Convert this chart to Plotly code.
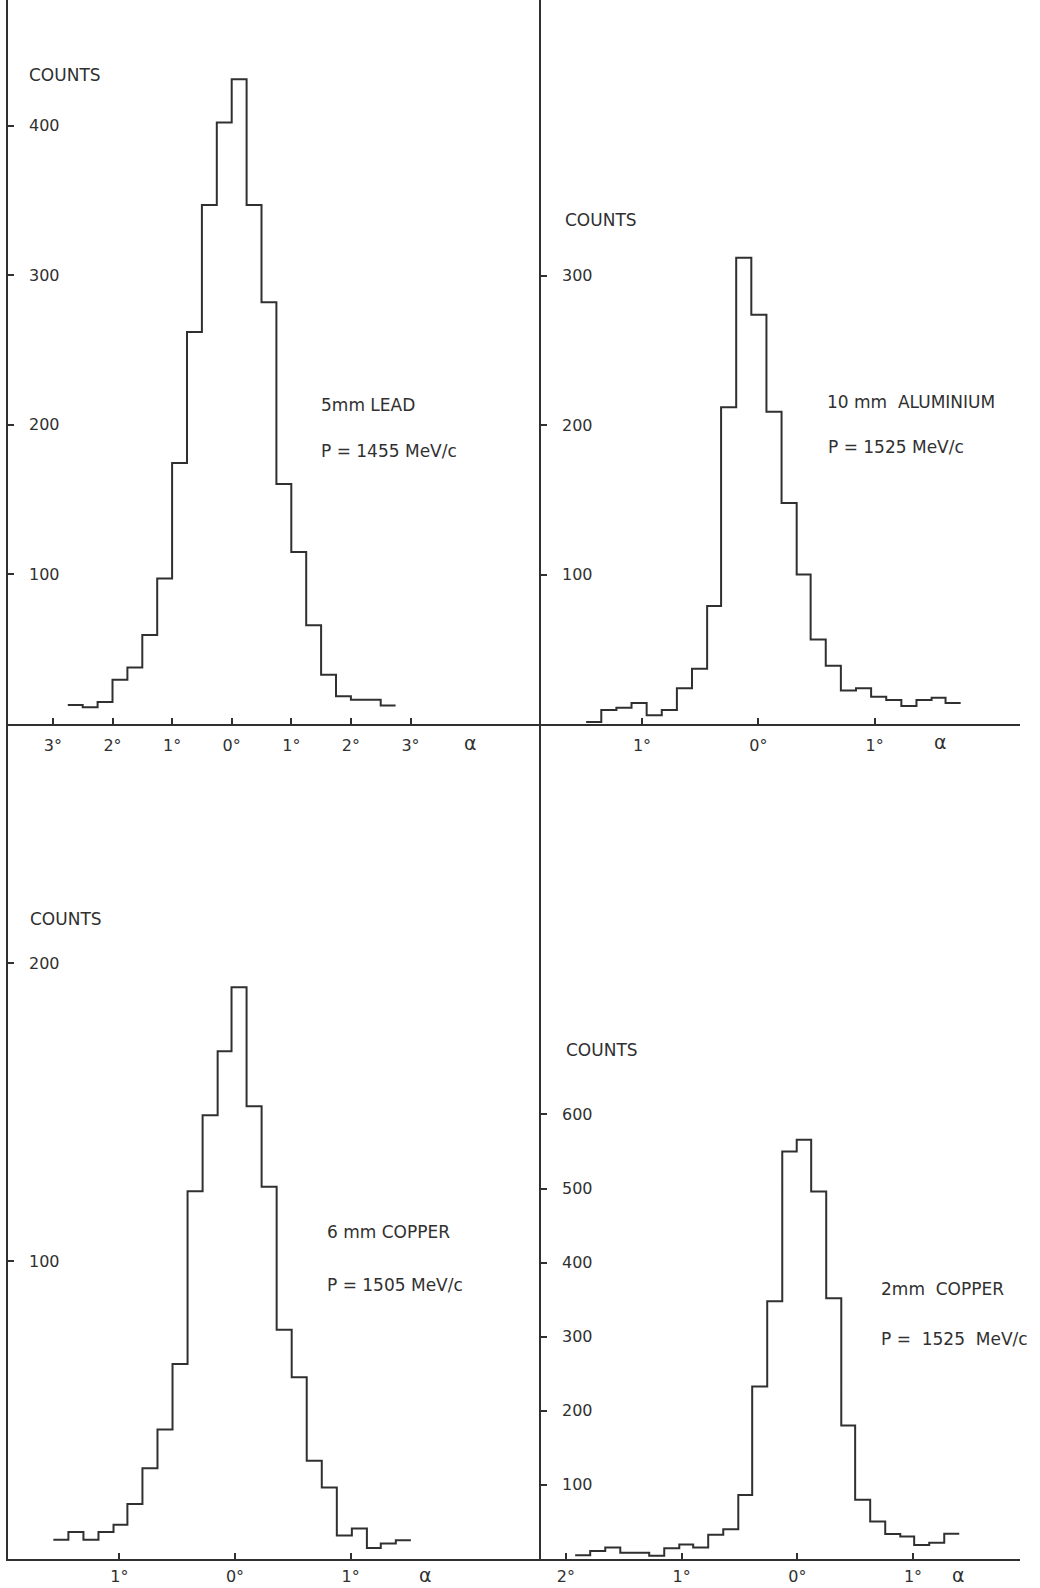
import plotly.graph_objects as go

W, H = 1040, 1588
INK = "#303030"
FONT = "DejaVu Sans"

# ---------------- data ----------------
# Panel A: 5 mm lead, P = 1455 MeV/c  (bin edges in degrees)
lead_edges = [-2.75, -2.5, -2.25, -2.0, -1.75, -1.5, -1.25, -1.0, -0.75, -0.5, -0.25,
              0.0, 0.25, 0.5, 0.75, 1.0, 1.25, 1.5, 1.75, 2.0, 2.25, 2.5, 2.75]
lead_counts = [12.7, 11.2, 14.7, 29.5, 37.7, 59.5, 97.2, 174.4, 262, 347, 402,
               431, 347, 282, 160.5, 115, 66, 33, 18.6, 16.2, 16.2, 12.4]

# Panel B: 10 mm aluminium, P = 1525 MeV/c
al_edges = [-1.48, -1.35, -1.22, -1.09, -0.96, -0.83, -0.70, -0.57, -0.44, -0.32,
            -0.19, -0.06, 0.07, 0.20, 0.33, 0.45, 0.58, 0.71, 0.84, 0.97, 1.10,
            1.23, 1.36, 1.49, 1.61, 1.74]
al_counts = [1.4, 9.4, 10.8, 14, 5.9, 9.4, 24, 37, 79, 212, 312, 274, 209, 148,
             100, 56.6, 39, 22.5, 24, 18.3, 16, 12, 16, 17.6, 14]

# Panel C: 6 mm copper, P = 1505 MeV/c
cu6_edges = [-1.57, -1.44, -1.31, -1.18, -1.05, -0.93, -0.80, -0.67, -0.54, -0.41,
             -0.28, -0.15, -0.03, 0.10, 0.23, 0.36, 0.49, 0.62, 0.75, 0.88, 1.01,
             1.14, 1.26, 1.39, 1.52]
cu6_counts = [6.5, 9.1, 6.5, 9.1, 11.5, 18.5, 30.5, 43.5, 65.5, 123.5, 149, 170.5,
              192, 152, 125, 77, 61, 33, 24, 7.9, 10.2, 3.7, 5.2, 6.3]

# Panel D: 2 mm copper, P = 1525 MeV/c
cu2_edges = [-1.92, -1.79, -1.66, -1.53, -1.41, -1.28, -1.15, -1.02, -0.90, -0.77,
             -0.64, -0.51, -0.39, -0.26, -0.13, -0.005, 0.12, 0.25, 0.38, 0.50,
             0.63, 0.76, 0.89, 1.01, 1.14, 1.27, 1.40]
cu2_counts = [4.9, 10.7, 15.6, 8.3, 8.3, 4.4, 14.6, 19.5, 15.6, 32.7, 40, 86.3,
              232.7, 348, 549.8, 565.9, 496, 352, 180, 80, 50.7, 33.7, 30.2, 19, 22, 34]

# tick values / labels
lead_xticks = [-3, -2, -1, 0, 1, 2, 3]
lead_xlabels = ["3°", "2°", "1°", "0°", "1°", "2°", "3°"]
lead_yticks = [100, 200, 300, 400]
al_xticks = [-1, 0, 1]
al_xlabels = ["1°", "0°", "1°"]
al_yticks = [100, 200, 300]
cu6_xticks = [-1, 0, 1]
cu6_xlabels = ["1°", "0°", "1°"]
cu6_yticks = [100, 200]
cu2_xticks = [-2, -1, 0, 1]
cu2_xlabels = ["2°", "1°", "0°", "1°"]
cu2_yticks = [100, 200, 300, 400, 500, 600]

labels = [
    ("5mm LEAD", "P = 1455 MeV/c"),
    ("10 mm  ALUMINIUM", "P = 1525 MeV/c"),
    ("6 mm COPPER", "P = 1505 MeV/c"),
    ("2mm  COPPER", "P =  1525  MeV/c"),
]

# ---------------- layout geometry (pixels) ----------------
XL, XM, XR = 8, 541, 1020          # vertical axis lines / right end of x axes
YT, YMID, YB = 0, 724, 1559        # top, upper baseline, lower baseline

panels = [
    # edges, counts, xticks, xlabels, yticks, (x0,x1), (ytop,ybase), zero_px, px_per_deg, px_per_100
    (lead_edges, lead_counts, lead_xticks, lead_xlabels, lead_yticks, (XL, XM), (YT, YMID), 231.7, 59.6, 149.6),
    (al_edges, al_counts, al_xticks, al_xlabels, al_yticks, (XM, XR), (YT, YMID), 758.3, 116.3, 149.4),
    (cu6_edges, cu6_counts, cu6_xticks, cu6_xlabels, cu6_yticks, (XL, XM), (YMID, YB), 235.0, 115.7, 297.8),
    (cu2_edges, cu2_counts, cu2_xticks, cu2_xlabels, cu2_yticks, (XM, XR), (YMID, YB), 797.3, 115.7, 74.1),
]

fig = go.Figure()
layout = dict(
    width=W, height=H, margin=dict(l=0, r=0, t=0, b=0),
    paper_bgcolor="white", plot_bgcolor="rgba(0,0,0,0)",
    showlegend=False, font=dict(family=FONT, color=INK, size=16),
)


def ann(text, px, py, size=16, anchor="left", yref="paper", yval=None):
    fig.add_annotation(
        text=text, x=px / W,
        y=(1 - py / H) if yval is None else yval,
        xref="paper", yref=yref,
        xanchor=anchor, yanchor="middle", showarrow=False,
        font=dict(family=FONT, size=size, color=INK),
    )


for i, (edges, counts, xt, xtl, yt, (x0, x1), (ytop, ybase), zpx, ppd, pp100) in enumerate(panels, start=1):
    xs = list(edges)
    ys = list(counts) + [counts[-1]]
    fig.add_trace(go.Scatter(
        x=xs, y=ys, mode="lines", line=dict(shape="hv", color=INK, width=2),
        xaxis=f"x{i}", yaxis=f"y{i}", hoverinfo="skip",
    ))
    xr = [(x0 - zpx) / ppd, (x1 - zpx) / ppd]
    yr = [0, (ybase - ytop) / pp100 * 100]
    sfx = "" if i == 1 else str(i)
    layout[f"xaxis{sfx}"] = dict(
        domain=[x0 / W, x1 / W], range=xr, anchor=f"y{i}",
        showline=True, linecolor=INK, linewidth=2, mirror=False,
        ticks="inside", ticklen=6, tickwidth=1.6, tickcolor=INK,
        tickmode="array", tickvals=xt, ticktext=xtl,
        tickfont=dict(family=FONT, size=16, color=INK),
        ticklabelstandoff=6 if ybase == YMID else 2,
        showgrid=False, zeroline=False, fixedrange=True,
    )
    layout[f"yaxis{sfx}"] = dict(
        domain=[1 - ybase / H, 1 - ytop / H], range=yr, anchor=f"x{i}",
        showline=True, linecolor=INK, linewidth=2,
        ticks="inside", ticklen=6, tickwidth=1.6, tickcolor=INK,
        tickmode="array", tickvals=yt, showticklabels=False,
        showgrid=False, zeroline=False, fixedrange=True,
    )
    # y tick labels placed just right of the axis, at the tick values
    for v in yt:
        ann(str(v), x0 + 19, 0, size=16, yref=f"y{i}", yval=v)

fig.update_layout(**layout)

# ---------------- text ----------------
counts_pos = [(27, 75), (563, 220), (28, 919), (564, 1050)]
for (px, py) in counts_pos:
    ann("COUNTS", px, py, size=17)

label_pos = [((319, 405), (319, 451)), ((825, 402), (826, 447)),
             ((325, 1232), (325, 1285)), ((879, 1289), (879, 1339))]
for (l1, l2), ((ax1, ay1), (ax2, ay2)) in zip(labels, label_pos):
    ann(l1, ax1, ay1, size=17)
    ann(l2, ax2, ay2, size=17)

alpha_pos = [(470, 743), (940, 742), (425, 1575), (958, 1575)]
for (px, py) in alpha_pos:
    ann("α", px, py, size=19, anchor="center")

fig.write_html("out.html", config={"displayModeBar": False},
               post_script="document.body.style.margin='0';")
